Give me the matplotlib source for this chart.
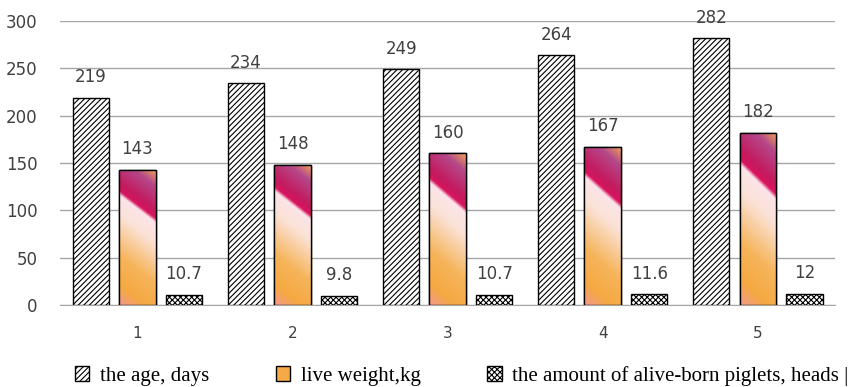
import numpy as np
import matplotlib
matplotlib.use('Agg')
import matplotlib.pyplot as plt
from matplotlib.colors import LinearSegmentedColormap

groups = ['1', '2', '3', '4', '5']
age_days = [219, 234, 249, 264, 282]
live_weight = [143, 148, 160, 167, 182]
piglets = [10.7, 9.8, 10.7, 11.6, 12]
piglet_labels = ['10.7', '9.8', '10.7', '11.6', '12']
legend_names = ['the age, days', 'live weight,kg', 'the amount of alive-born piglets, heads |']

plt.rcParams['hatch.linewidth'] = 0.8

fig = plt.figure(figsize=(8.55, 3.87), dpi=100)
ax = fig.add_axes([0.070, 0.212, 0.907, 0.734])

x = np.arange(len(groups))
w = 0.235
off = 0.30

b1 = ax.bar(x - off, age_days, w, facecolor='white', edgecolor='black',
            hatch='//////', linewidth=1.0, zorder=3, label=legend_names[0])
b2 = ax.bar(x, live_weight, w, facecolor='#F5AA45', edgecolor='black',
            linewidth=1.0, zorder=3, label=legend_names[1])
b3 = ax.bar(x + off, piglets, w, facecolor='white', edgecolor='black',
            hatch='xxxxxx', linewidth=1.0, zorder=3, label=legend_names[2])

# diagonal gradient like the office chart fill
cmap = LinearSegmentedColormap.from_list('lw', [
    (0.00, '#EFA455'),
    (0.10, '#B4488A'),
    (0.25, '#C41A5E'),
    (0.30, '#D8145E'),
    (0.325, '#FCE4EA'),
    (0.45, '#FBE2D6'),
    (0.70, '#F6B45A'),
    (0.88, '#F5A942'),
    (1.00, '#F29A8C'),
])
ny, nx = 200, 60
u = np.linspace(0, 1, nx)[None, :]
v = np.linspace(0, 1, ny)[:, None]  # 0 at top
s = v - 0.205 * u
s = (s + 0.205) / 1.205
for rect in b2:
    x0, y0 = rect.get_x(), rect.get_y()
    im = ax.imshow(s, cmap=cmap, vmin=0, vmax=1, aspect='auto',
                   extent=[x0, x0 + rect.get_width(), y0, y0 + rect.get_height()],
                   origin='upper', zorder=3.1, interpolation='bilinear')
    im.set_clip_path(rect)
    ax.add_patch(plt.Rectangle((x0, y0), rect.get_width(), rect.get_height(),
                               fill=False, edgecolor='black', linewidth=1.0, zorder=3.2))

lab_kw = dict(ha='center', va='bottom', fontsize=12, color='#404040', family='DejaVu Sans')
for i in range(len(groups)):
    ax.text(x[i] - off, age_days[i] + 12, str(age_days[i]), **lab_kw)
    ax.text(x[i], live_weight[i] + 12, str(live_weight[i]), **lab_kw)
    ax.text(x[i] + off, piglets[i] + 12, piglet_labels[i], **lab_kw)

ax.set_xlim(-0.5, 4.5)
ax.set_ylim(0, 300)
ax.set_yticks(range(0, 301, 50))
ax.set_xticks(x)
ax.set_xticklabels(groups)
ax.yaxis.grid(True, color='#A6A6A6', linewidth=1.0, zorder=0)
ax.set_axisbelow(True)
for sp in ['top', 'right', 'left']:
    ax.spines[sp].set_visible(False)
ax.spines['bottom'].set_color('#A6A6A6')
ax.tick_params(axis='both', length=0, labelcolor='#404040')
ax.tick_params(axis='x', labelsize=11, pad=15)
ax.tick_params(axis='y', labelsize=12, pad=16)
for t in ax.get_yticklabels():
    t.set_family('DejaVu Sans')

leg = fig.legend(handles=[b1, b2, b3], loc='lower center', bbox_to_anchor=(0.54, -0.045),
                 ncol=3, frameon=False, prop={'family': 'Liberation Serif', 'size': 15},
                 handlelength=0.7, handleheight=0.7, columnspacing=3.2, handletextpad=0.5)

fig.savefig('out.png', dpi=100)
